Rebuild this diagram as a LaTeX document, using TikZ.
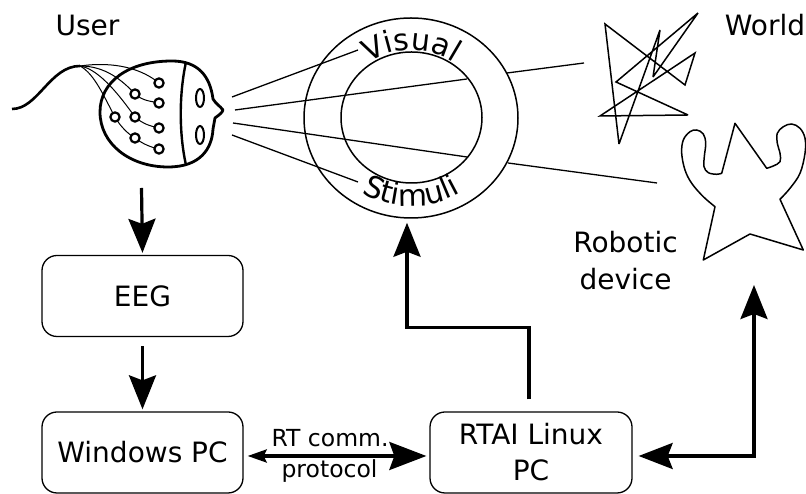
\documentclass[tikz,border=0pt]{standalone}
\usepackage{fontspec}
\setmainfont{DejaVu Sans}
\usetikzlibrary{arrows.meta,shapes.geometric,decorations.text}
\newcommand\lblfont{\fontsize{28}{36}\selectfont}
\newcommand\ringfont{\fontsize{30}{36}\selectfont}
\newcommand\protofont{\fontsize{23.5}{28}\selectfont}

\begin{document}
\begin{tikzpicture}[x=1pt,y=1pt,
  box/.style={draw, line width=1.3pt, rounded corners=15pt, minimum width=201pt,
    minimum height=81pt, align=center, font=\lblfont, inner sep=0pt},
  lens/.style={draw, ellipse, line width=1.5pt, inner sep=0pt},
  txt/.style={font=\lblfont, anchor=base, inner sep=0pt},
  smalltxt/.style={font=\protofont, anchor=base, inner sep=0pt},
  flow/.style={line width=3.2pt, -{Stealth[length=34pt,width=27pt,inset=5pt]}},
  twoway/.style={line width=3.2pt,
    {Stealth[length=34pt,width=26pt,inset=5pt]}-{Stealth[length=34pt,width=27pt,inset=5pt]}},
  sight/.style={line width=1.3pt},
  sketch/.style={line width=1.5pt, line join=miter, miter limit=4},
]
\useasboundingbox (0,0) rectangle (806,494);

% ---- labels
\node[txt] (userlbl) at (87.5,458) {User};
\node[txt] (worldlbl) at (765,458) {World};
\node[txt] (robolbl) at (625.5,241) {Robotic};
\node[txt] (devlbl) at (625.5,204) {device};

% ---- the user's head with electrode cap
\draw[line width=2.6pt] (12,385) .. controls (38,385) and (50,428) .. (80,428);
\begin{scope}[line width=1pt]
  \draw (80,428) .. controls (115,433) and (142,425) .. (159,411);
  \draw (80,428) .. controls (105,428) and (122,414) .. (135,400)
                 .. controls (143,393) and (150,393) .. (159,391);
  \draw (80,428) .. controls (100,425) and (122,395) .. (135,377)
                 .. controls (143,370) and (150,368) .. (159,366);
  \draw (80,428) .. controls (95,420) and (105,395) .. (115,377)
                 .. controls (120,368) and (128,360) .. (135,356)
                 .. controls (143,350) and (150,347) .. (159,345);
\end{scope}
\draw[line width=2.8pt, line join=round]
  (213,395) .. controls (210,418) and (198,433) .. (172,433)
            .. controls (128,433) and (100,412) .. (100,382)
            .. controls (100,350) and (130,327) .. (168,327)
            .. controls (200,327) and (212,345) .. (213,365)
            -- (215,376) .. controls (219,379) and (222,381) .. (223,384)
            .. controls (220,388) and (216,390) .. cycle;
\draw[line width=2.4pt] (186,432) .. controls (179,400) and (179,360) .. (186,329);
\draw[line width=2pt] (200,396) ellipse[x radius=4, y radius=9];
\draw[line width=2pt] (200,359) ellipse[x radius=4, y radius=9];
\foreach \p in {(159,411),(135,400),(159,391),(115,377),(135,377),(159,366),(135,356),(159,345)}
  \draw[line width=2.2pt, fill=white] \p circle[radius=4.6];

% ---- the visual stimuli ring
\node[lens, minimum width=214pt, minimum height=200pt] (outer) at (411,376) {};
\node[lens, minimum width=141pt, minimum height=131pt] (inner) at (411.5,376.5) {};
\path[decorate, decoration={text along path, text={|\ringfont|Visual}, text align=center}]
  ([shift={(170:73 and 68)}]411,376) arc[start angle=170, end angle=10, x radius=73, y radius=68];
\path[decorate, decoration={text along path, text={|\ringfont|Stimuli}, text align=center}]
  ([shift={(195:94 and 88)}]411,376) arc[start angle=195, end angle=345, x radius=94, y radius=88];

% ---- lines of sight
\coordinate (eyeA) at (232,397);
\coordinate (eyeB) at (235,384);
\coordinate (eyeC) at (233,371);
\coordinate (eyeD) at (232,359);
\coordinate (visA) at (358,444);
\coordinate (visB) at (467,415);
\coordinate (visC) at (467,337);
\coordinate (visD) at (358,312);
\coordinate (outB) at (507,421);
\coordinate (outC) at (508,331);
\coordinate (worldpt) at (584,431);
\coordinate (robotpt) at (657,311);
\draw[sight] (eyeA) -- (visA);
\draw[sight] (eyeB) -- (visB);
\draw[sight] (eyeC) -- (visC);
\draw[sight] (eyeD) -- (visD);
\draw[sight] (outB) -- (worldpt);
\draw[sight] (outC) -- (robotpt);

% ---- the world
\draw[sketch] (605,470) -- (685,409) -- (695,441) -- (600,378) -- (688,379) -- (616,412)
  -- (698,481) -- (653,417) -- (660,464) -- (619,350) -- cycle;

% ---- the robotic device
\draw[sketch, line join=round]
  (715,287.3) -- plot[smooth, tension=0.6] coordinates {
    (715,287.3) (703.3,297.3) (691.7,310.7) (685,324) (681.7,340.7) (683.3,354)
    (690,362.3) (696.7,364) (703.3,360) (705.7,350.7) (704.3,337.3) (704,327.3)
    (708.3,321.3) (716.7,319.7) (721.7,320.7)}
  -- (735,370.7) -- (766.7,325.7)
  -- plot[smooth, tension=0.6] coordinates {
    (766.7,325.7) (773.3,328) (780,332.3) (780,340.7) (777.3,350.7) (777.3,360.7)
    (783.3,367.3) (791.7,370) (800,365.7) (805,355.7) (805,340.7) (800,320.7)
    (790,305.7) (780,294.7)}
  -- (803.3,244) -- (750,260) -- (703.3,234) -- cycle;

% ---- processing chain
\node[box] (eeg) at (142.5,198) {EEG};
\node[box] (win) at (142.5,41.5) {Windows PC};
\node[box, minimum width=202pt] (rtai) at (531,41.5) {RTAI Linux\\PC};
\coordinate (usrbot) at (141.5,306);
\coordinate (robotfoot) at (754,209);

\draw[flow] (usrbot) -- ([yshift=2pt]eeg.north);
\draw[flow] ([yshift=-9pt]eeg.south) -- ([yshift=2pt]win.north);
\draw[flow] ([xshift=-2pt,yshift=12pt]rtai.north) -- ++(0,72)
  -| ([xshift=-4pt,yshift=-4pt]outer.south);
\draw[twoway] ([xshift=6pt,yshift=-3.5pt]rtai.east) -| (robotfoot);
\draw[line width=3.2pt,
  {Stealth[length=19pt,width=13pt,inset=3pt]}-{Stealth[length=37pt,width=28pt,inset=5pt]}]
  ([xshift=4pt,yshift=-3.5pt]win.east) -- ([xshift=-3pt,yshift=-3.5pt]rtai.west);
\node[smalltxt] (rtlbl) at (330,47) {RT comm.};
\node[smalltxt] (protolbl) at (329.5,16) {protocol};
\end{tikzpicture}
\end{document}
